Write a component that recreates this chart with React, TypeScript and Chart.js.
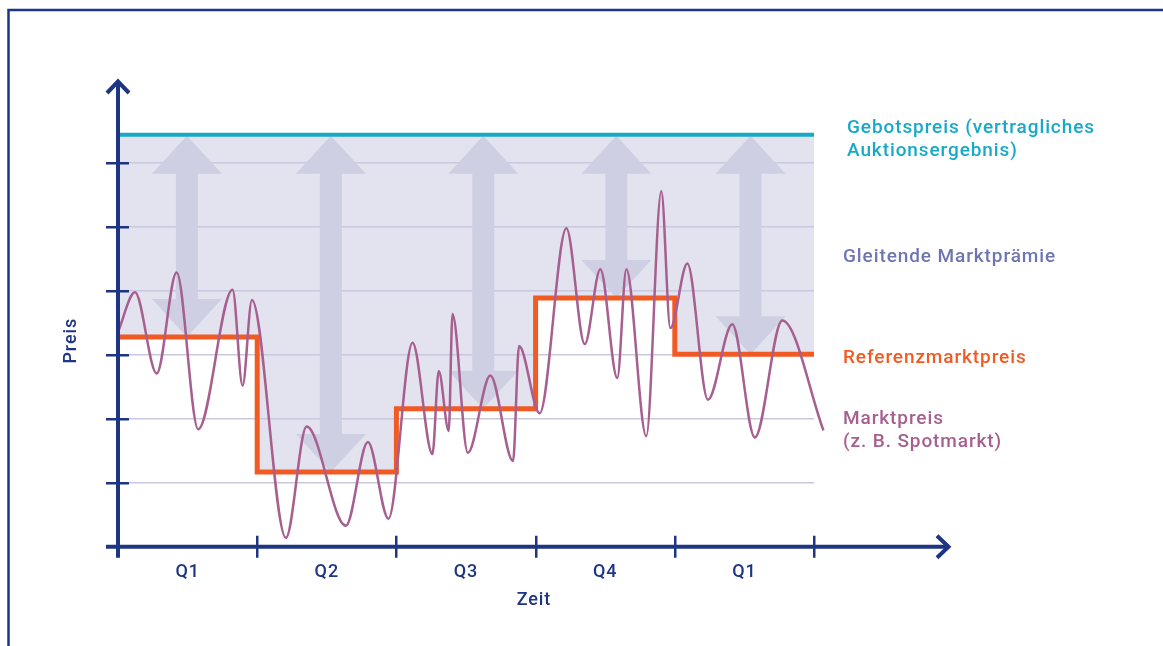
import React, { useEffect, useRef } from 'react';
import { Chart, registerables } from 'chart.js';

Chart.register(...registerables);

// ---- data ----
const quarterLabels = ['Q1', 'Q2', 'Q3', 'Q4', 'Q1'];
const quarterCenters = [0.5, 1.5, 2.5, 3.5, 4.5];
const quarterEdges = [0, 1, 2, 3, 4, 5];
const yTickValues = [1, 2, 3, 4, 5, 6];
const bidPrice = 6.445;
const referencePrice = [3.28, 1.17, 2.16, 3.89, 3.01];
const premiumArrowX = [0.495, 1.529, 2.624, 3.58, 4.544];
const marketX = [
  0, 0.122, 0.278, 0.421, 0.576, 0.823, 0.895, 0.962, 1.206, 1.355, 1.637, 1.795, 1.943,
  2.116, 2.259, 2.304, 2.376, 2.403, 2.513, 2.675, 2.838, 2.881, 3.029, 3.221, 3.353,
  3.465, 3.587, 3.652, 3.795, 3.903, 3.968, 4.09, 4.238, 4.413, 4.575, 4.772, 5.068,
];
const marketY = [
  3.36, 3.98, 2.71, 4.29, 1.84, 4.02, 2.52, 3.86, 0.14, 1.88, 0.33, 1.64, 0.44,
  3.19, 1.45, 2.75, 1.81, 3.64, 1.47, 2.68, 1.34, 3.14, 2.09, 4.98, 3.17,
  4.34, 2.64, 4.34, 1.73, 5.56, 3.42, 4.43, 2.3, 3.48, 1.71, 3.54, 1.82,
];
const labelBid = ['Gebotspreis (vertragliches', 'Auktionsergebnis)'];
const labelPremium = 'Gleitende Marktprämie';
const labelReference = 'Referenzmarktpreis';
const labelMarket = ['Marktpreis', '(z. B. Spotmarkt)'];
const axisTitleY = 'Preis';
const axisTitleX = 'Zeit';

// ---- styles ----
const NAVY = '#1e3584';
const TEAL = '#17a9c7';
const ORANGE = '#f25a24';
const MAUVE = '#a65f8f';
const PREMIUM_TEXT = '#6f75b1';
const SHADE = '#e3e3f0';
const ARROW = '#cecfe3';
const GRID = '#c9c8de';
const FONT = 'Roboto, "Noto Sans", sans-serif';
const SPACING = '0.9px';

const decorPlugin = {
  id: 'decor',
  beforeDraw(chart: any) {
    const { ctx } = chart;
    (ctx as any).letterSpacing = SPACING;
    const xs = chart.scales.x;
    const ys = chart.scales.y;
    ctx.save();
    ctx.fillStyle = SHADE;
    const top = ys.getPixelForValue(bidPrice);
    ctx.beginPath();
    ctx.moveTo(xs.getPixelForValue(quarterEdges[0]), top);
    ctx.lineTo(xs.getPixelForValue(quarterEdges[quarterEdges.length - 1]), top);
    for (let i = referencePrice.length - 1; i >= 0; i--) {
      const b = ys.getPixelForValue(referencePrice[i]);
      ctx.lineTo(xs.getPixelForValue(quarterEdges[i + 1]), b);
      ctx.lineTo(xs.getPixelForValue(quarterEdges[i]), b);
    }
    ctx.closePath();
    ctx.fill();
    ctx.restore();
  },
  beforeDatasetsDraw(chart: any) {
    const { ctx } = chart;
    const xs = chart.scales.x;
    const ys = chart.scales.y;
    const headW = 70;
    const headH = 38;
    const shaftW = 22;
    ctx.save();
    ctx.fillStyle = ARROW;
    const top = ys.getPixelForValue(bidPrice) + 1;
    for (let i = 0; i < premiumArrowX.length; i++) {
      const cx = xs.getPixelForValue(premiumArrowX[i]);
      const bottom = ys.getPixelForValue(referencePrice[i]);
      ctx.beginPath();
      ctx.moveTo(cx, top);
      ctx.lineTo(cx + headW / 2, top + headH);
      ctx.lineTo(cx + shaftW / 2, top + headH);
      ctx.lineTo(cx + shaftW / 2, bottom - headH);
      ctx.lineTo(cx + headW / 2, bottom - headH);
      ctx.lineTo(cx, bottom);
      ctx.lineTo(cx - headW / 2, bottom - headH);
      ctx.lineTo(cx - shaftW / 2, bottom - headH);
      ctx.lineTo(cx - shaftW / 2, top + headH);
      ctx.lineTo(cx - headW / 2, top + headH);
      ctx.closePath();
      ctx.fill();
    }
    ctx.restore();
  },
  afterDatasetsDraw(chart: any) {
    const { ctx, chartArea, width, height } = chart;
    const xs = chart.scales.x;
    const ys = chart.scales.y;
    const ox = xs.getPixelForValue(0);
    const oy = ys.getPixelForValue(0);
    const xEnd = chartArea.right + 136;
    const yEnd = chartArea.top;
    ctx.save();
    // frame
    ctx.strokeStyle = NAVY;
    ctx.lineWidth = 2.5;
    ctx.beginPath();
    ctx.moveTo(8.5, height);
    ctx.lineTo(8.5, 10);
    ctx.lineTo(width, 10);
    ctx.stroke();

    // axes
    ctx.lineWidth = 4;
    ctx.lineCap = 'butt';
    ctx.beginPath();
    ctx.moveTo(ox, oy + 11);
    ctx.lineTo(ox, yEnd + 1);
    ctx.moveTo(ox - 12, oy);
    ctx.lineTo(xEnd - 1, oy);
    ctx.stroke();
    // arrow heads
    ctx.lineJoin = 'miter';
    ctx.beginPath();
    ctx.moveTo(ox - 11, yEnd + 13);
    ctx.lineTo(ox, yEnd + 1.5);
    ctx.lineTo(ox + 11, yEnd + 13);
    ctx.moveTo(xEnd - 13, oy - 11);
    ctx.lineTo(xEnd - 1.5, oy);
    ctx.lineTo(xEnd - 13, oy + 11);
    ctx.stroke();

    // tick marks
    ctx.lineWidth = 2.5;
    ctx.beginPath();
    for (const v of yTickValues) {
      const py = Math.round(ys.getPixelForValue(v)) + 0.25;
      ctx.moveTo(ox - 12, py);
      ctx.lineTo(ox + 11, py);
    }
    for (const e of quarterEdges.slice(1)) {
      const pxv = Math.round(xs.getPixelForValue(e)) + 0.25;
      ctx.moveTo(pxv, oy - 11);
      ctx.lineTo(pxv, oy + 11);
    }
    ctx.stroke();

    // axis titles
    (ctx as any).letterSpacing = SPACING;
    ctx.fillStyle = NAVY;
    ctx.font = `500 18px ${FONT}`;
    ctx.textAlign = 'center';
    ctx.textBaseline = 'middle';
    ctx.fillText(axisTitleX, (ox + xEnd) / 2, 600);
    ctx.save();
    ctx.translate(71, (oy + ys.getPixelForValue(bidPrice)) / 2);
    ctx.rotate(-Math.PI / 2);
    ctx.fillText(axisTitleY, 0, 0);
    ctx.restore();

    // series labels
    ctx.textAlign = 'left';
    ctx.textBaseline = 'alphabetic';
    ctx.font = `500 19px ${FONT}`;
    const lx = chartArea.right + 29;
    ctx.fillStyle = TEAL;
    ctx.fillText(labelBid[0], lx + 4, 132.5);
    ctx.fillText(labelBid[1], lx + 4, 155.5);
    ctx.fillStyle = PREMIUM_TEXT;
    ctx.fillText(labelPremium, lx, 261.5);
    ctx.fillStyle = ORANGE;
    ctx.fillText(labelReference, lx, 363);
    ctx.fillStyle = MAUVE;
    ctx.fillText(labelMarket[0], lx, 424);
    ctx.fillText(labelMarket[1], lx, 447);
    ctx.restore();
  },
};

export default function App() {
  const canvasRef = useRef<HTMLCanvasElement | null>(null);

  useEffect(() => {
    const canvas = canvasRef.current;
    if (!canvas) return;
    Chart.defaults.font.family = FONT;
    const chart = new Chart(canvas, {
      type: 'line',
      data: {
        datasets: [
          {
            label: 'Marktpreis',
            data: marketX.map((x, i) => ({ x, y: marketY[i] })),
            borderColor: MAUVE,
            borderWidth: 2.5,
            pointRadius: 0,
            cubicInterpolationMode: 'monotone',
            fill: false,
            clip: false,
          },
          {
            label: 'Referenzmarktpreis',
            data: quarterEdges.map((x, i) => ({ x, y: referencePrice[Math.min(i, referencePrice.length - 1)] })),
            borderColor: ORANGE,
            borderWidth: 5,
            pointRadius: 0,
            stepped: 'before',
            fill: false,
          },
          {
            label: 'Gebotspreis',
            data: [
              { x: quarterEdges[0], y: bidPrice },
              { x: quarterEdges[quarterEdges.length - 1], y: bidPrice },
            ],
            borderColor: TEAL,
            borderWidth: 4,
            pointRadius: 0,
            fill: false,
          },
        ],
      } as any,
      options: {
        animation: false,
        responsive: false,
        events: [],
        layout: { padding: { left: 118, right: 349, top: 80, bottom: 47.6 } },
        plugins: { legend: { display: false }, tooltip: { enabled: false } },
        scales: {
          x: {
            type: 'linear',
            min: 0,
            max: 5,
            afterBuildTicks: (s: any) => {
              s.ticks = quarterCenters.map((v) => ({ value: v }));
            },
            ticks: {
              callback: (_v: any, i: number) => quarterLabels[i],
              font: { family: FONT, size: 18, weight: '500' },
              color: NAVY,
              padding: 15,
              maxRotation: 0,
              autoSkip: false,
            },
            grid: { display: false, drawTicks: false },
            border: { display: false },
          },
          y: {
            type: 'linear',
            min: 0,
            max: 7.3,
            afterBuildTicks: (s: any) => {
              s.ticks = yTickValues.map((v) => ({ value: v }));
            },
            ticks: { display: false },
            grid: { color: GRID, lineWidth: 1.5, drawTicks: false },
            border: { display: false },
          },
        },
      } as any,
      plugins: [decorPlugin],
    });
    return () => chart.destroy();
  }, []);

  return (
    <div style={{ position: 'fixed', left: 0, top: 0, width: 1163, height: 646, overflow: 'hidden', background: '#fff' }}>
      <canvas ref={canvasRef} width={1163} height={646} style={{ display: 'block' }} />
    </div>
  );
}
